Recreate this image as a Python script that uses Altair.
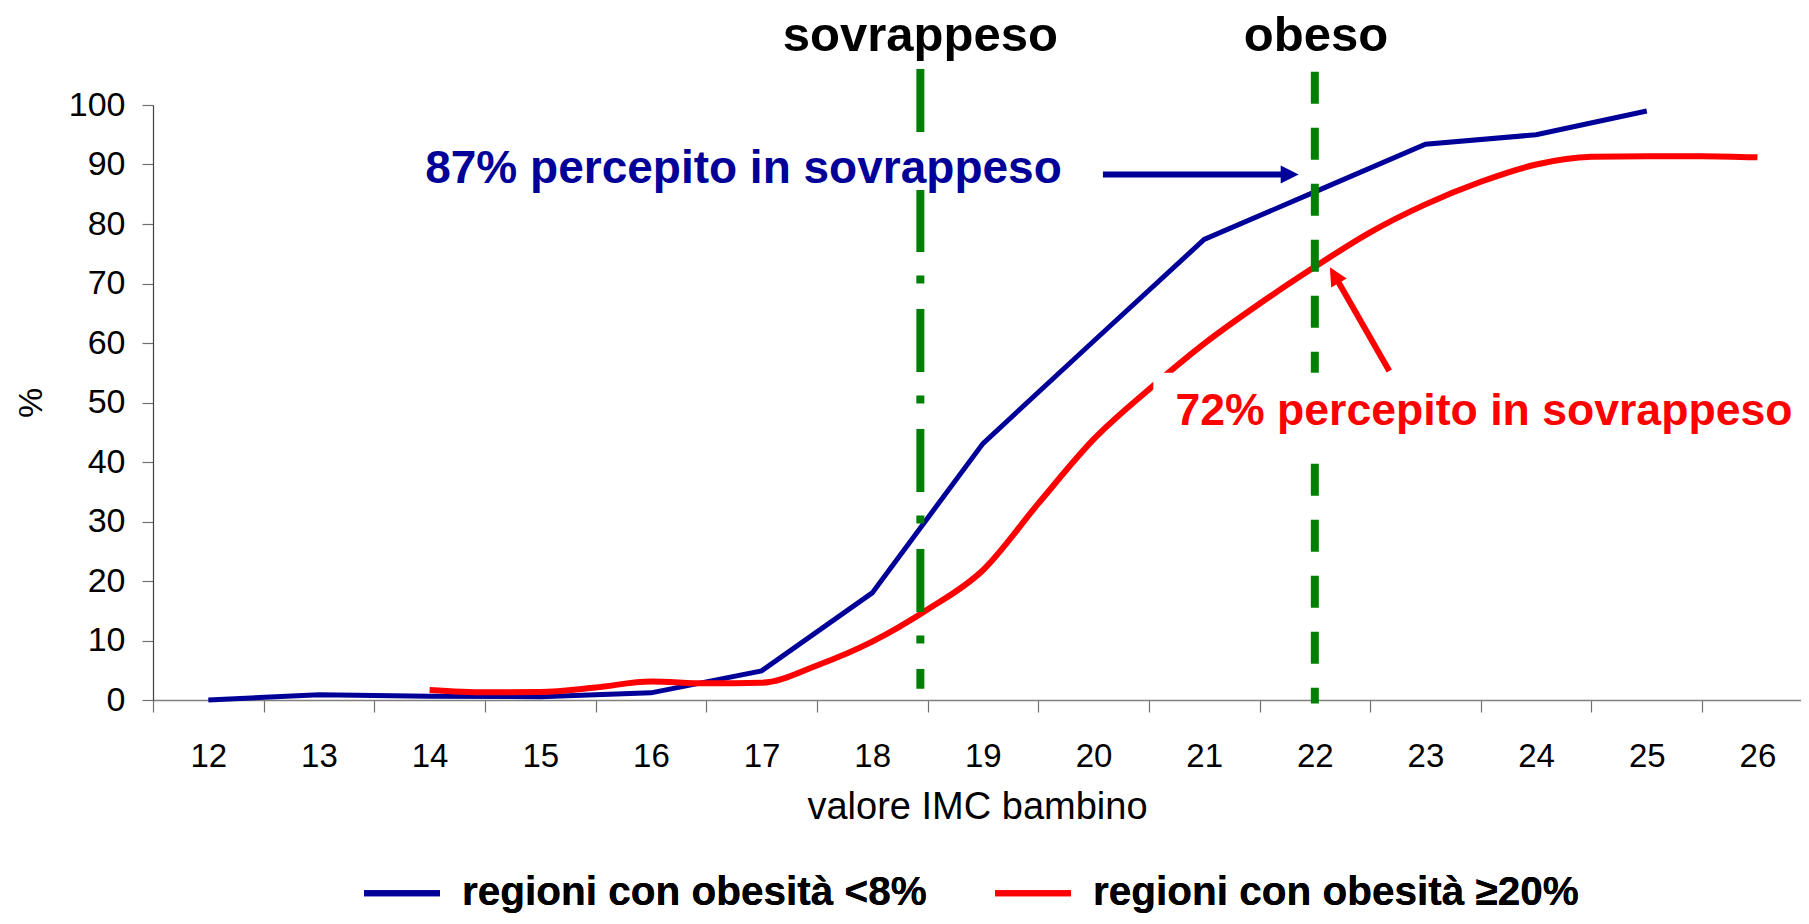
import altair as alt
import pandas as pd

# ---------------- data ----------------
categories = list(range(12, 27))                      # x-axis category labels

bmi_blue = [12, 13, 14, 15, 16, 17, 18, 19, 20, 21, 22, 23, 24, 25]
pct_blue = [0.0, 0.9, 0.65, 0.55, 1.2, 4.9, 18.0, 43.1, 60.3, 77.4, 85.4, 93.4, 95.0, 99.0]

bmi_red = [14, 14.5, 15, 15.5, 16, 16.5, 17, 17.5, 18, 18.5, 19, 19.5, 20,
           20.5, 21, 21.5, 22, 22.5, 23, 23.5, 24, 24.5, 25, 25.5, 26]
pct_red = [1.7, 1.3, 1.35, 2.1, 3.1, 2.8, 2.9, 5.8, 9.8, 15.2, 21.8, 33.0, 43.8,
           52.2, 59.9, 66.6, 72.8, 78.6, 83.3, 87.1, 90.0, 91.3, 91.4, 91.4, 91.2]

series_names = ["regioni con obesità <8%", "regioni con obesità ≥20%"]

threshold_names = ["sovrappeso", "obeso"]
threshold_bmi = [18.435, 22.0]

note_texts = ["87% percepito in sovrappeso", "72% percepito in sovrappeso"]

# ---------------- styling ----------------
BLUE = "#000099"
RED = "#FF0000"
GREEN = "#008000"
FONT = "Liberation Sans"

W, H = 1648, 595
BAND = 110.65
XMAX = 11.5 + W / BAND

xs = alt.Scale(domain=[11.5, XMAX], nice=False, zero=False)
ys = alt.Scale(domain=[0, 100], nice=False, zero=False)

boundaries = [c - 0.5 for c in categories if c - 0.5 <= XMAX]

x_axis = alt.Axis(
    values=boundaries,
    labelExpr="format(datum.value + 0.5, 'd')",
    labelOffset=BAND / 2,
    labelFlush=False, labelOverlap=False, labelBound=False,
    tickSize=12, tickColor="#707070", tickWidth=1.2,
    domainColor="#808080", domainWidth=1.5,
    labelPadding=28, labelFont=FONT, labelFontSize=33, labelColor="black",
    title="valore IMC bambino", titleFont=FONT, titleFontSize=38,
    titleFontWeight="normal", titleColor="black",
    titleBaseline="alphabetic", titleY=118, grid=False,
)
y_axis = alt.Axis(
    values=list(range(0, 101, 10)),
    tickSize=11, tickColor="#707070", tickWidth=1.2,
    domainColor="#404040", domainWidth=1.2,
    labelPadding=17, labelFont=FONT, labelFontSize=34, labelColor="black",
    title="%", titleFont=FONT, titleFontSize=34, titleFontWeight="normal",
    titleColor="black", titleAngle=270, titleAlign="center",
    titleBaseline="alphabetic", titleX=-112, titleY=H / 2, grid=False,
)


def X(field):
    return alt.X(field, scale=xs, axis=x_axis)


def Y(field):
    return alt.Y(field, scale=ys, axis=y_axis)


color_scale = alt.Scale(domain=series_names, range=[BLUE, RED])
legend = alt.Legend(
    orient="none", legendX=208, legendY=747, direction="horizontal",
    title=None, symbolType="stroke", symbolSize=5776, symbolStrokeWidth=6,
    symbolOpacity=1, labelFont=FONT, labelFontSize=40.5, labelFontWeight="bold",
    labelColor="black", labelOffset=19, columnPadding=56, padding=0,
    labelLimit=1000,
)
note_color = alt.Scale(domain=["blue", "red"], range=[BLUE, RED])

# ---------------- tables ----------------
df_blue = pd.DataFrame({"x": bmi_blue, "y": pct_blue, "serie": series_names[0]})
df_red = pd.DataFrame({"x": bmi_red, "y": pct_red, "serie": series_names[1]})

blue_line = alt.Chart(df_blue).mark_line(strokeWidth=5, interpolate="linear").encode(
    x=X("x:Q"), y=Y("y:Q"),
    color=alt.Color("serie:N", scale=color_scale, legend=legend),
)
red_line = alt.Chart(df_red).mark_line(strokeWidth=6, interpolate="monotone").encode(
    x=X("x:Q"), y=Y("y:Q"),
    color=alt.Color("serie:N", scale=color_scale, legend=legend),
)

# threshold lines
df_sov = pd.DataFrame({"x": [threshold_bmi[0]], "y": [106.05], "y2": [1.9]})
df_obe = pd.DataFrame({"x": [threshold_bmi[1]], "y": [105.6], "y2": [-0.6]})
sov_rule = alt.Chart(df_sov).mark_rule(
    color=GREEN, strokeWidth=8, strokeDash=[63, 23.5, 8, 25.5], strokeCap="butt"
).encode(x=X("x:Q"), y=Y("y:Q"), y2="y2:Q")
obe_rule = alt.Chart(df_obe).mark_rule(
    color=GREEN, strokeWidth=8, strokeDash=[32, 24], strokeCap="butt"
).encode(x=X("x:Q"), y=Y("y:Q"), y2="y2:Q")

# white text boxes (they hide the lines behind the annotations)
df_box = pd.DataFrame({
    "x": [13.8, 20.54], "x2": [19.9, XMAX],
    "y": [94.1, 55.0], "y2": [85.7, 42.9],
})
boxes = alt.Chart(df_box).mark_rect(color="white").encode(
    x=X("x:Q"), x2="x2:Q", y=Y("y:Q"), y2="y2:Q",
)

# annotation texts
df_notes = pd.DataFrame({
    "x": [13.96, 20.74], "y": [86.84, 46.2], "label": note_texts,
    "c": ["blue", "red"], "fs": [46, 44.6],
})
notes = alt.Chart(df_notes).mark_text(
    font=FONT, fontWeight="bold", align="left", baseline="alphabetic"
).encode(
    x=X("x:Q"), y=Y("y:Q"), text="label:N",
    size=alt.Size("fs:Q", scale=None, legend=None),
    color=alt.Color("c:N", scale=note_color, legend=None),
)

# arrows
df_arrows = pd.DataFrame({
    "x": [20.085, 22.673], "y": [88.3, 55.3],
    "x2": [21.797, 22.165], "y2": [88.3, 71.8],
    "c": ["blue", "red"], "ang": [90, 330],
})
shafts = alt.Chart(df_arrows).mark_rule(strokeWidth=6, strokeCap="butt").encode(
    x=X("x:Q"), x2="x2:Q", y=Y("y:Q"), y2="y2:Q",
    color=alt.Color("c:N", scale=note_color, legend=None),
)
heads = alt.Chart(df_arrows).mark_point(
    shape="M0,-0.7L-1,1.3L1,1.3Z", filled=True, opacity=1, size=324, strokeWidth=0
).encode(
    x=X("x2:Q"), y=Y("y2:Q"),
    angle=alt.Angle("ang:Q", scale=None),
    color=alt.Color("c:N", scale=note_color, legend=None),
)

# threshold titles
df_titles = pd.DataFrame({"x": [18.435, 22.01], "y": [109.0, 109.0], "label": threshold_names})
titles = alt.Chart(df_titles).mark_text(
    font=FONT, fontSize=49, fontWeight="bold", color="black",
    align="center", baseline="alphabetic",
).encode(x=X("x:Q"), y=Y("y:Q"), text="label:N")

chart = alt.layer(
    blue_line, red_line, sov_rule, obe_rule, boxes, notes, shafts, heads, titles
).resolve_scale(color="independent").properties(
    width=W, height=H,
    autosize=alt.AutoSizeParams(type="none"),
    padding={"left": 145, "top": 97, "right": 0, "bottom": 216},
    background="white",
).configure_view(stroke=None)

chart.save("out.html", embed_options={"renderer": "svg", "actions": False})
